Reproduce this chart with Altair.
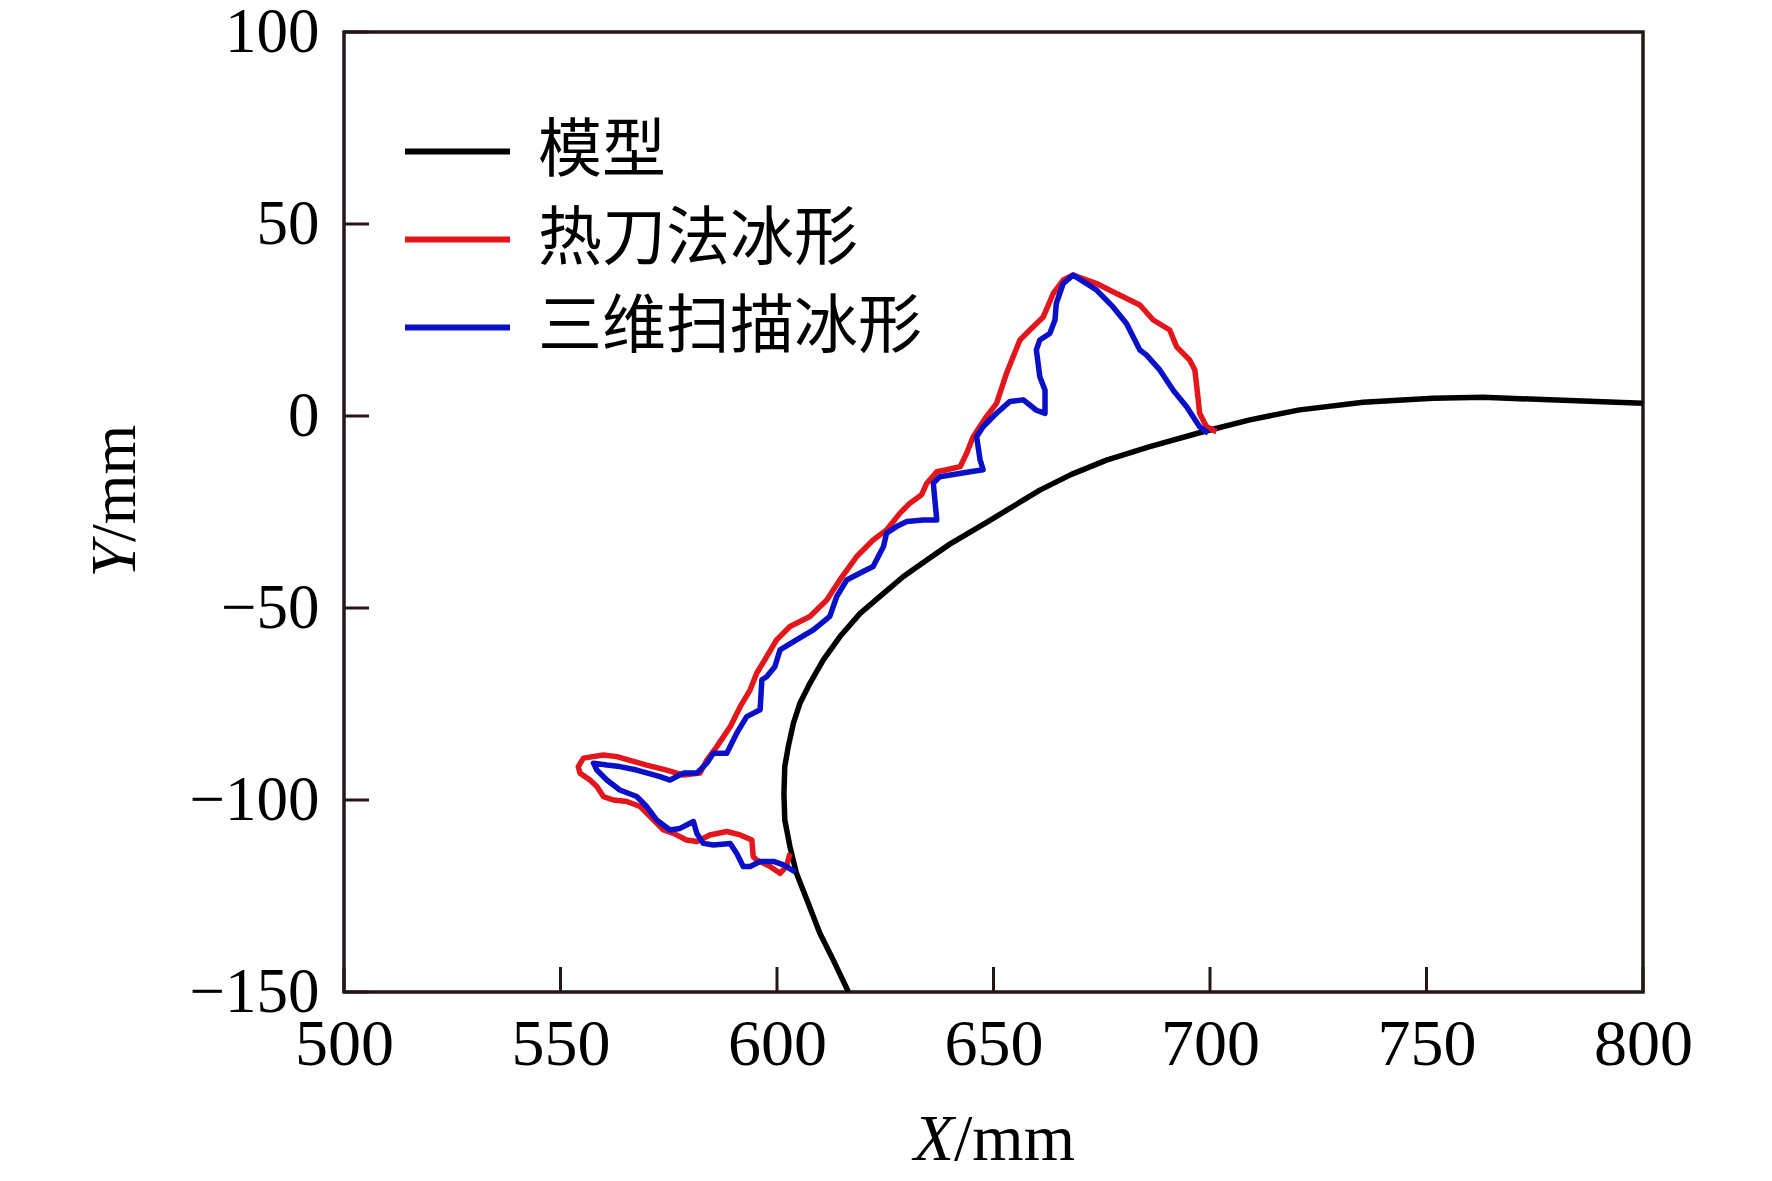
import altair as alt
import pandas as pd

# ---- data ----
model_x = [616.5, 613.0, 609.9, 606.9, 604.5, 603.0, 601.8, 601.6, 601.8, 602.6, 603.8, 605.3,
           607.6, 610.7, 614.5, 619.2, 624.6, 629.2, 634.6, 640.0, 649.0, 660.7, 668.0, 676.1,
           686.1, 698.4, 709.2, 720.7, 735.4, 751.5, 763.1, 778.5, 800.0]
model_y = [-150.0, -141.7, -134.7, -126.0, -119.1, -112.2, -105.2, -98.3, -91.3, -86.1, -80.0, -74.8,
           -69.6, -63.5, -57.5, -51.4, -46.2, -41.8, -37.5, -33.3, -27.3, -19.3, -15.2, -11.5,
           -8.0, -4.1, -1.0, 1.6, 3.6, 4.6, 4.9, 4.2, 3.3]

hot_x = [603.0, 602.2, 600.7, 598.4, 595.3, 594.5, 594.2, 591.5, 588.4, 584.5, 581.5, 579.1,
         576.1, 573.8, 570.7, 568.4, 565.3, 562.2, 559.9, 558.4, 556.8, 554.5, 554.1, 555.3,
         559.9, 563.0, 569.9, 574.5, 578.4, 582.2, 583.8, 586.1, 589.2, 591.5, 593.8, 595.3,
         597.6, 599.9, 603.0, 607.6, 611.5, 614.5, 618.4, 622.2, 625.3, 628.4, 630.7, 633.4,
         634.6, 636.9, 639.2, 642.3, 643.8, 645.3, 648.4, 650.7, 653.0, 656.1, 658.4, 661.5,
         663.8, 666.1, 668.4, 673.8, 678.4, 683.8, 686.9, 690.7, 692.3, 695.3, 696.5, 697.3,
         697.6, 699.2, 701.5]
hot_y = [-113.9, -117.3, -119.1, -117.3, -115.6, -114.7, -110.4, -109.1, -108.2, -109.1, -110.8, -110.4,
         -108.7, -107.8, -104.3, -101.7, -100.4, -100.0, -99.1, -96.5, -94.8, -93.0, -91.3, -89.1,
         -88.3, -88.7, -90.9, -92.2, -93.5, -93.0, -89.6, -86.1, -80.9, -75.7, -71.3, -67.0,
         -62.7, -58.3, -54.8, -52.2, -47.9, -42.7, -36.6, -32.3, -29.7, -25.3, -22.7, -20.5,
         -17.5, -14.5, -14.0, -13.2, -9.7, -5.4, -0.1, 3.3, 11.1, 19.8, 22.4, 25.8,
         31.9, 35.4, 36.7, 34.5, 31.9, 28.9, 25.0, 22.4, 18.0, 14.6, 12.0, 4.1,
         0.7, -2.8, -4.1]

scan_x = [604.2, 601.5, 599.2, 596.1, 593.8, 592.2, 590.7, 589.2, 585.3, 583.0, 581.5, 580.7,
          577.6, 575.3, 572.2, 569.9, 567.6, 563.7, 560.7, 558.4, 557.6, 560.7, 563.7, 567.6,
          573.0, 575.3, 578.4, 581.5, 583.8, 585.3, 588.4, 590.7, 593.0, 596.1, 596.5, 597.6,
          599.5, 600.7, 604.5, 608.4, 612.2, 613.8, 616.1, 619.2, 622.2, 624.6, 625.3, 627.6,
          630.0, 633.8, 636.9, 636.1, 637.6, 644.6, 647.6, 646.9, 646.1, 647.6, 650.7, 653.8,
          656.9, 659.9, 661.9, 661.9, 660.7, 659.9, 660.7, 663.0, 664.2, 664.5, 666.1, 668.4,
          673.8, 677.6, 680.7, 683.8, 685.3, 688.4, 691.5, 694.6, 697.6, 699.6]
scan_y = [-118.7, -116.9, -116.0, -116.0, -117.3, -117.3, -113.9, -111.3, -111.7, -111.3, -108.7, -105.6,
          -107.4, -107.8, -105.2, -101.7, -99.1, -97.4, -94.8, -92.2, -90.4, -90.9, -91.3, -92.2,
          -93.9, -94.8, -93.0, -93.0, -90.4, -87.8, -87.8, -82.6, -78.3, -76.5, -68.7, -67.9,
          -65.3, -60.9, -58.3, -55.7, -52.2, -47.0, -42.7, -40.9, -39.2, -34.0, -30.5, -28.8,
          -27.5, -27.1, -27.1, -17.5, -15.8, -14.5, -14.0, -11.4, -5.4, -2.8, 0.7, 3.8,
          4.2, 1.5, 0.7, 6.7, 10.2, 17.2, 19.8, 21.5, 25.0, 29.3, 34.5, 36.7,
          32.8, 28.4, 24.1, 17.2, 15.9, 12.0, 6.7, 2.4, -2.8, -4.5]

series_names = ["模型", "热刀法冰形", "三维扫描冰形"]
series_colors = ["#000000", "#e3161b", "#0a10c8"]

x_ticks = [500, 550, 600, 650, 700, 750, 800]
y_ticks = [100, 50, 0, -50, -100, -150]

# ---- tables ----
rows = []
for name, xs, ys in zip(series_names, [model_x, hot_x, scan_x], [model_y, hot_y, scan_y]):
    for i, (a, b) in enumerate(zip(xs, ys)):
        rows.append({"series": name, "x": a, "y": b, "i": i})
df = pd.DataFrame(rows)
xt = pd.DataFrame({"v": x_ticks})
yt = pd.DataFrame({"v": y_ticks})

W, H = 1299, 960
SERIF = "Liberation Serif"
FRAME = "#231815"

xscale = alt.Scale(domain=[500, 800], nice=False, zero=False)
yscale = alt.Scale(domain=[-150, 100], nice=False, zero=False)

xaxis = alt.Axis(title="", values=x_ticks, labelPadding=20, labelFontSize=66)
yaxis = alt.Axis(title="", values=y_ticks, labelPadding=25, labelFontSize=63)

lines = alt.Chart(df).mark_line(strokeWidth=5.5, clip=True, strokeJoin="round").encode(
    x=alt.X("x:Q", scale=xscale, axis=xaxis),
    y=alt.Y("y:Q", scale=yscale, axis=yaxis),
    color=alt.Color("series:N",
                    scale=alt.Scale(domain=series_names, range=series_colors),
                    sort=series_names,
                    legend=alt.Legend(title=None, orient="none", legendX=58, legendY=64,
                                      symbolType="stroke", symbolSize=11025,
                                      symbolStrokeWidth=6, labelFont="Noto Sans CJK SC",
                                      labelFontSize=64, labelColor="#000000", labelLimit=0,
                                      labelOffset=25, rowPadding=0, padding=0)),
    order=alt.Order("i:Q"),
)

xtick_layer = alt.Chart(xt).mark_rule(color=FRAME, strokeWidth=3).encode(
    x=alt.X("v:Q", scale=xscale, axis=xaxis),
    y=alt.value(H),
    y2=alt.value(H - 25),
)
ytick_layer = alt.Chart(yt).mark_rule(color=FRAME, strokeWidth=3).encode(
    y=alt.Y("v:Q", scale=yscale, axis=yaxis),
    x=alt.value(0),
    x2=alt.value(25),
)

xt1 = alt.Chart().mark_text(text="X", font=SERIF, fontSize=66, fontStyle="italic",
                            align="right", baseline="alphabetic", color="#000000").encode(
    x=alt.value(610), y=alt.value(1128))
xt2 = alt.Chart().mark_text(text="/mm", font=SERIF, fontSize=66,
                            align="left", baseline="alphabetic", color="#000000").encode(
    x=alt.value(610), y=alt.value(1128))
yt1 = alt.Chart().mark_text(text="Y", font=SERIF, fontSize=64, fontStyle="italic", angle=270,
                            align="right", baseline="alphabetic", color="#000000").encode(
    x=alt.value(-209), y=alt.value(510))
yt2 = alt.Chart().mark_text(text="/mm", font=SERIF, fontSize=64, angle=270,
                            align="left", baseline="alphabetic", color="#000000").encode(
    x=alt.value(-209), y=alt.value(510))

chart = alt.layer(lines, xtick_layer, ytick_layer, xt1, xt2, yt1, yt2).properties(
    width=W, height=H,
    background="#ffffff",
    autosize=alt.AutoSizeParams(type="none"),
    padding={"left": 336, "top": 24, "right": 121, "bottom": 181},
).configure_axis(
    tickSize=0, domain=False, grid=False, ticks=False,
    labelFont=SERIF, labelColor="#000000", labelFlush=False
).configure_view(
    stroke=FRAME, strokeWidth=3.5
)

chart.save("out.html", embed_options={"renderer": "svg", "actions": False})
